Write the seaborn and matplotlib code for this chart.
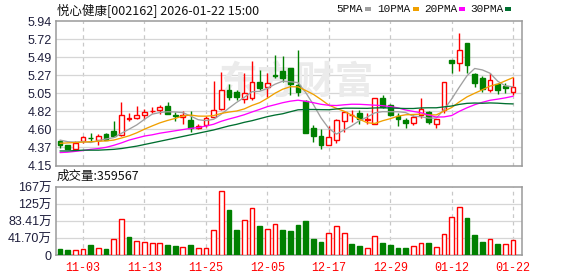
import numpy as np
import pandas as pd
import matplotlib
matplotlib.use("Agg")
import matplotlib.pyplot as plt
from matplotlib.patches import Rectangle
import seaborn as sns

# ---------------- data ----------------
title_name = "悦心健康[002162] 2026-01-22 15:00"

opens = [4.45, 4.40, 4.36, 4.45, 4.49, 4.47, 4.54, 4.58, 4.53, 4.73,
         4.735, 4.775, 4.82, 4.84, 4.89, 4.77, 4.75, 4.71, 4.61, 4.65,
         4.75, 4.85, 5.08, 5.06, 4.97, 4.98, 5.19, 5.12, 5.265, 5.32,
         5.36, 5.15, 4.95, 4.62, 4.51, 4.41, 4.46, 4.705, 4.77, 4.80,
         4.715, 4.67, 4.98, 4.90, 4.76, 4.715, 4.675, 4.78, 4.815, 4.665,
         4.84, 5.46, 5.425, 5.665, 5.28, 5.24, 5.08, 5.16, 5.14, 5.065]
highs = [4.465, 4.41, 4.45, 4.515, 4.55, 4.54, 4.55, 4.70, 4.94, 4.80,
         4.89, 4.85, 4.88, 4.90, 4.94, 4.81, 4.82, 4.82, 4.66, 4.76,
         5.20, 5.31, 5.16, 5.08, 5.30, 5.44, 5.33, 5.29, 5.52, 5.51,
         5.36, 5.58, 4.96, 4.65, 4.60, 4.64, 4.72, 4.815, 4.84, 4.84,
         4.80, 4.99, 5.02, 4.91, 4.80, 4.74, 4.77, 4.98, 4.83, 4.73,
         5.19, 5.46, 5.79, 5.67, 5.30, 5.26, 5.29, 5.17, 5.17, 5.25]
lows = [4.37, 4.35, 4.355, 4.43, 4.45, 4.41, 4.46, 4.50, 4.52, 4.70,
        4.73, 4.72, 4.80, 4.79, 4.785, 4.70, 4.67, 4.57, 4.60, 4.63,
        4.74, 4.84, 4.96, 4.96, 4.92, 4.96, 5.09, 5.00, 5.24, 5.19,
        5.02, 5.01, 4.55, 4.445, 4.36, 4.41, 4.43, 4.56, 4.69, 4.67,
        4.67, 4.665, 4.86, 4.76, 4.64, 4.61, 4.65, 4.74, 4.67, 4.61,
        4.80, 5.30, 5.32, 5.29, 5.12, 5.06, 5.06, 5.04, 5.05, 5.02]
closes = [4.40, 4.36, 4.43, 4.50, 4.485, 4.51, 4.47, 4.51, 4.77, 4.74,
          4.775, 4.815, 4.83, 4.87, 4.79, 4.76, 4.775, 4.62, 4.64, 4.735,
          4.84, 5.09, 5.00, 4.995, 5.045, 5.19, 5.115, 5.175, 5.26, 5.23,
          5.155, 5.065, 4.555, 4.515, 4.405, 4.505, 4.715, 4.81, 4.78, 4.72,
          4.725, 4.98, 4.88, 4.775, 4.72, 4.675, 4.755, 4.845, 4.69, 4.725,
          5.19, 5.42, 5.58, 5.395, 5.175, 5.10, 5.215, 5.085, 5.105, 5.12]
prev_close = 4.44  # close of the session before the first visible one

# volume in 万 (10k lots)
volumes = [14.7, 12.3, 11.5, 14.0, 24.6, 16.4, 14.7, 38.5, 87.7, 44.2,
           34.4, 31.9, 28.7, 28.7, 24.6, 22.1, 18.9, 24.6, 16.4, 16.4,
           60.6, 157.0, 110.5, 61.4, 86.0, 114.7, 71.2, 63.0, 75.4, 61.4,
           59.0, 73.7, 83.5, 39.3, 32.7, 53.2, 71.2, 53.2, 27.0, 22.1,
           16.4, 46.7, 28.7, 24.6, 17.2, 17.2, 21.3, 28.7, 28.7, 18.9,
           51.6, 92.6, 118.6, 90.0, 49.1, 32.7, 38.5, 27.0, 27.0, 35.9567]

ma5 = [4.465, 4.445, 4.44, 4.445, 4.435, 4.457, 4.479, 4.495, 4.549, 4.60,
       4.653, 4.722, 4.786, 4.806, 4.816, 4.813, 4.805, 4.763, 4.717, 4.706,
       4.722, 4.785, 4.861, 4.932, 4.994, 5.064, 5.069, 5.105, 5.157, 5.194,
       5.187, 5.177, 5.053, 4.904, 4.739, 4.609, 4.539, 4.59, 4.643, 4.706,
       4.75, 4.803, 4.817, 4.816, 4.816, 4.806, 4.761, 4.754, 4.737, 4.738,
       4.841, 4.974, 5.121, 5.262, 5.352, 5.334, 5.293, 5.194, 5.136, 5.125]
ma10 = [4.425, 4.43, 4.435, 4.44, 4.445, 4.45, 4.455, 4.465, 4.49, 4.518,
        4.555, 4.60, 4.64, 4.678, 4.708, 4.733, 4.764, 4.775, 4.762, 4.761,
        4.768, 4.795, 4.812, 4.825, 4.851, 4.894, 4.928, 4.983, 5.045, 5.095,
        5.126, 5.124, 5.079, 5.031, 4.967, 4.898, 4.858, 4.822, 4.774, 4.723,
        4.68, 4.671, 4.704, 4.73, 4.761, 4.778, 4.782, 4.786, 4.777, 4.777,
        4.824, 4.868, 4.938, 5.00, 5.045, 5.088, 5.134, 5.158, 5.199, 5.239]
ma20 = [4.31, 4.315, 4.325, 4.335, 4.35, 4.36, 4.375, 4.40, 4.43, 4.465,
        4.49, 4.515, 4.53, 4.55, 4.565, 4.58, 4.595, 4.61, 4.62, 4.639,
        4.661, 4.698, 4.726, 4.751, 4.779, 4.813, 4.845, 4.879, 4.903, 4.928,
        4.947, 4.959, 4.945, 4.928, 4.908, 4.896, 4.893, 4.902, 4.909, 4.908,
        4.903, 4.897, 4.891, 4.88, 4.864, 4.838, 4.82, 4.804, 4.775, 4.75,
        4.752, 4.769, 4.821, 4.865, 4.903, 4.933, 4.958, 4.972, 4.988, 5.008]
ma30 = [4.33, 4.33, 4.335, 4.34, 4.34, 4.34, 4.345, 4.35, 4.36, 4.375,
        4.39, 4.41, 4.43, 4.45, 4.47, 4.49, 4.51, 4.53, 4.55, 4.57,
        4.59, 4.615, 4.64, 4.66, 4.685, 4.705, 4.73, 4.755, 4.775, 4.791,
        4.816, 4.84, 4.844, 4.844, 4.842, 4.841, 4.85, 4.86, 4.86, 4.859,
        4.858, 4.863, 4.865, 4.862, 4.859, 4.856, 4.856, 4.863, 4.865, 4.865,
        4.876, 4.887, 4.907, 4.92, 4.924, 4.921, 4.925, 4.922, 4.916, 4.913]

price_ticks = [4.15, 4.374, 4.5975, 4.821, 5.045, 5.269, 5.4925, 5.716, 5.94]
price_labels = ["4.15", "4.37", "4.60", "4.82", "5.05", "5.27", "5.49", "5.72", "5.94"]
vol_ticks = [0, 41.705, 83.41, 125.115, 166.82]
vol_labels = ["0", "41.70万", "83.41万", "125万", "167万"]
date_tick_pos = [3, 11, 19, 27, 35, 43, 51, 59]
date_labels = ["11-03", "11-13", "11-25", "12-05", "12-17", "12-29", "01-12", "01-22"]
ma_names = ["5PMA", "10PMA", "20PMA", "30PMA"]

# ---------------- style ----------------
sns.set_theme(style="white")
plt.rcParams["font.family"] = ["Liberation Sans", "Noto Sans CJK SC", "DejaVu Sans"]

RED = "#ff0000"
GREEN = "#008000"
MA_COLORS = ["#a0a0a0", "#f0a000", "#ff00ff", "#006f30"]
BORDER = "#9a9a9a"
HGRID = "#d6d6d6"
VGRID = "#c8c8c8"
LABEL = "#1e1e3c"

W, H = 578, 276
fig = plt.figure(figsize=(W / 100, H / 100), dpi=100)
fig.patch.set_facecolor("white")


def fx(px):
    return px / W


def fy(py):
    return 1 - py / H


ax = fig.add_axes([fx(56), fy(165.5), fx(522) - fx(56), fy(21) - fy(165.5)])
axv = fig.add_axes([fx(56), fy(255), fx(522) - fx(56), fy(187) - fy(255)])

n = len(closes)
idx = np.arange(n)
df = pd.DataFrame({"i": idx, "open": opens, "high": highs, "low": lows,
                   "close": closes, "vol": volumes,
                   "ma5": ma5, "ma10": ma10, "ma20": ma20, "ma30": ma30})

for a in (ax, axv):
    a.set_facecolor("white")
    a.set_xlim(-0.52, 60.16)
    for s in a.spines.values():
        s.set_color(BORDER)
        s.set_linewidth(1.1)
    for p in date_tick_pos:
        a.axvline(p, color=VGRID, lw=0.9, ls=(0, (3, 3)), zorder=0.5)
    a.tick_params(axis="both", length=0, pad=3)

ax.set_ylim(4.15, 5.94)
for t in price_ticks[1:-1]:
    ax.axhline(t, color=HGRID, lw=0.9, zorder=0.5)
ax.set_yticks(price_ticks)
ax.set_yticklabels(price_labels, fontsize=9, color=LABEL)
ax.set_xticks(date_tick_pos)
ax.set_xticklabels([])

# watermark
ax.text(0.515, 0.57, "东方财富", transform=ax.transAxes, fontsize=28,
        fontweight="bold", color="#ebebeb", ha="center", va="center",
        family=["Noto Sans CJK SC"], zorder=0.6)

# candles
bw = 0.62
for i in range(n):
    o, h, l, c = opens[i], highs[i], lows[i], closes[i]
    up = c >= o
    col = RED if up else GREEN
    lo_b, hi_b = min(o, c), max(o, c)
    hgt = max(hi_b - lo_b, 0.004)
    ax.bar(i, hgt, bottom=lo_b, width=bw, facecolor="white" if up else GREEN,
           edgecolor=col, linewidth=1.0, zorder=3)
    if h > hi_b:
        ax.vlines(i, hi_b, h, color=col, lw=1.0, zorder=2.9)
    if l < lo_b:
        ax.vlines(i, l, lo_b, color=col, lw=1.0, zorder=2.9)

# moving averages
for name, col in zip(["ma5", "ma10", "ma20", "ma30"], MA_COLORS):
    sns.lineplot(data=df, x="i", y=name, color=col, linewidth=0.95, ax=ax,
                 legend=False, zorder=4)
ax.set_xlabel("")
ax.set_ylabel("")

# volume
prevs = [prev_close] + closes[:-1]
for i in range(n):
    up = closes[i] > prevs[i]
    axv.bar(i, volumes[i], width=bw, facecolor="white" if up else GREEN,
            edgecolor=RED if up else GREEN, linewidth=1.0, zorder=3)
axv.set_ylim(0, 166.82)
for t in vol_ticks[1:-1]:
    axv.axhline(t, color=HGRID, lw=0.9, zorder=0.5)
axv.set_yticks(vol_ticks)
axv.set_yticklabels(vol_labels, fontsize=9, color=LABEL)
axv.set_xticks(date_tick_pos)
axv.set_xticklabels(date_labels, fontsize=8.5, color=RED,
                    family=["Liberation Mono"])
axv.tick_params(axis="x", pad=5)

# texts
fig.text(fx(57), fy(10), title_name, fontsize=9, color="#111111",
         ha="left", va="center", family=["Noto Sans CJK SC"])
fig.text(fx(57), fy(176.5), "成交量:%d" % round(volumes[-1] * 10000),
         fontsize=9, color="#111111", ha="left", va="center",
         family=["Noto Sans CJK SC"])

# legend
sq_x = [365, 412.5, 459, 505]
for name, col, sx in zip(ma_names, MA_COLORS, sq_x):
    fig.text(fx(sx - 2), fy(9.5), name, fontsize=8, color="#111111",
             ha="right", va="center", family=["Liberation Mono"])
    fig.patches.append(Rectangle((fx(sx), fy(10.5)), fx(6), 3.2 / H,
                                 transform=fig.transFigure, facecolor=col,
                                 edgecolor="none"))

fig.savefig("out.png", dpi=100, facecolor="white")
